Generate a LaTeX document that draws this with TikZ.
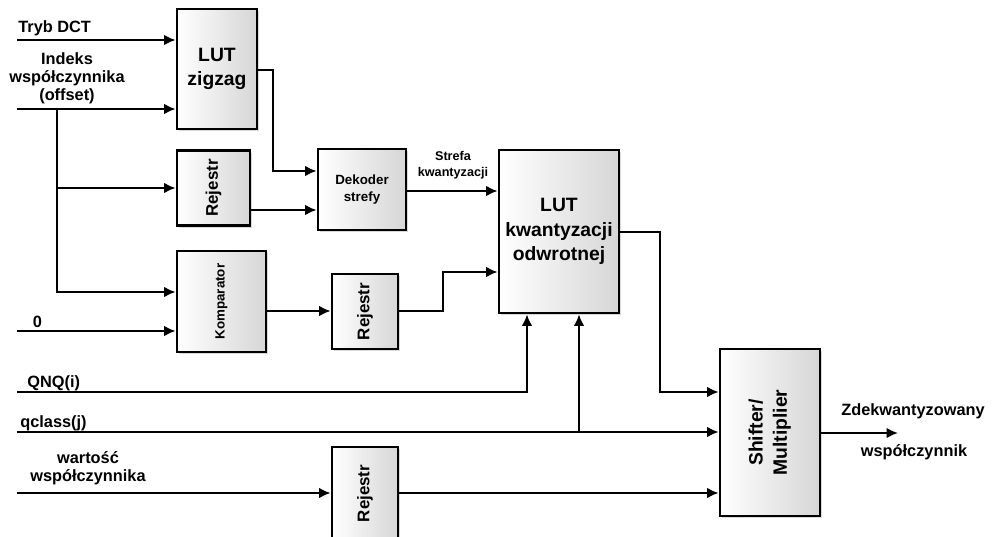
\documentclass[tikz,border=0pt]{standalone}
\usepackage{fontspec}
\setmainfont{Liberation Sans}
\usetikzlibrary{positioning}
\usetikzlibrary{arrows.meta}
\usetikzlibrary{shadows}

\begin{document}
\begin{tikzpicture}[
    x=0.02cm, y=-0.02cm,
    box/.style={draw, rectangle, line width=1.6pt, align=center,
                left color=white, right color=black!16,
                drop shadow={shadow xshift=1.3pt, shadow yshift=-1.3pt, fill=black!30}},
    big/.style={font=\fontsize{11}{13.8}\selectfont\bfseries},
    small/.style={font=\fontsize{7.6}{9.2}\selectfont\bfseries},
    reg/.style={font=\fontsize{9.6}{11}\selectfont\bfseries},
    lbl/.style={font=\fontsize{9.3}{10.3}\selectfont\bfseries, align=center, inner sep=0pt},
    wire/.style={line width=1.15pt, -{Latex[length=6.5pt,width=6pt]}},
  ]
    \useasboundingbox (0,0) rectangle (997,537);

    % Bloki
    \node[box, big, minimum width=1.6cm, minimum height=2.4cm] (zigzag) at (217,69) {LUT\\zigzag};
    \node[box, reg, minimum width=1.46cm, minimum height=1.5cm] (rej1) at (213.5,188) {\rotatebox{90}{Rejestr}};
    \node[box, small, minimum width=1.76cm, minimum height=1.62cm] (dekoder) at (362,189.5) {Dekoder\\strefy};
    \node[box, big, minimum width=2.4cm, minimum height=3.26cm] (lutq) at (559,231.5) {LUT\\kwantyzacji\\odwrotnej};
    \node[box, small, minimum width=1.78cm, minimum height=2.02cm] (komp) at (221.5,301.5) {\rotatebox{90}{Komparator}};
    \node[box, reg, minimum width=1.32cm, minimum height=1.5cm] (rej2) at (365,311.5) {\rotatebox{90}{Rejestr}};
    \node[box, reg, minimum width=1.32cm, minimum height=1.86cm] (rej3) at (365,493.5) {\rotatebox{90}{Rejestr}};
    \node[box, big, minimum width=2cm, minimum height=3.34cm] (shift) at (770,432.5)
      {\rotatebox{90}{\begin{tabular}{@{}c@{}}Shifter/\\Multiplier\end{tabular}}};

    % Wejscia
    \coordinate (inTryb) at (17,40);
    \coordinate (inIdx) at (17,109);
    \coordinate (tap) at (57,109);
    \coordinate (inZero) at (17,331);
    \coordinate (inQnq) at (17,392);
    \coordinate (inQcl) at (17,432);
    \coordinate (inWart) at (17,493);
    \coordinate (out) at (898,433);

    % Etykiety
    \node[lbl, anchor=base west] (tTryb) at (18,33) {Tryb DCT};
    \node[lbl] (tIdx) at (67,78) {Indeks\\współczynnika\\(offset)};
    \node[lbl] (tZero) at (37.5,322) {0};
    \node[lbl, anchor=base west] (tQnq) at (27,387) {QNQ(i)};
    \node[lbl, anchor=base west] (tQcl) at (20,427) {qclass(j)};
    \node[lbl] (tWart) at (88,468.5) {wartość\\współczynnika};
    \node[lbl, font=\fontsize{7.2}{9}\selectfont\bfseries] (tStrefa) at (453,165) {Strefa\\kwantyzacji};
    \node[lbl] (tZdek) at (913,411) {Zdekwantyzowany};
    \node[lbl] (tWsp) at (914,452) {współczynnik};

    % Polaczenia
    \draw[wire] (inTryb) -- (inTryb -| zigzag.west);
    \draw[wire] (inIdx) -- (inIdx -| zigzag.west);
    \draw[wire] (tap) |- (komp.west |- 0,292);
    \draw[wire] (tap |- rej1.west) -- (rej1.west);
    \draw[wire] (inZero) -- (inZero -| komp.west);

    \draw[wire] (zigzag.east |- 0,70) -| (273,171) -- (dekoder.west |- 0,171);
    \draw[wire] (rej1.east |- 0,210) -- (dekoder.west |- 0,210);
    \draw[wire] (dekoder.east |- 0,191) -- (lutq.west |- 0,191);

    \draw[wire] (komp.east |- 0,311) -- (rej2.west |- 0,311);
    \draw[wire] (rej2.east |- 0,311) -| (443,272) -- (lutq.west |- 0,272);

    \draw[wire] (lutq.east |- 0,232) -| (660,392) -- (shift.west |- 0,392);
    \draw[wire] (inQnq) -| (lutq.south -| 527,0);
    \draw[wire] (inQcl) -- (inQcl -| shift.west);
    \draw[wire] (579,432) -- (lutq.south -| 579,0);
    \draw[wire] (inWart) -- (inWart -| rej3.west);
    \draw[wire] (rej3.east |- 0,493) -- (shift.west |- 0,493);
    \draw[wire] (shift.east |- out) -- (out);

  \end{tikzpicture}
\end{document}
